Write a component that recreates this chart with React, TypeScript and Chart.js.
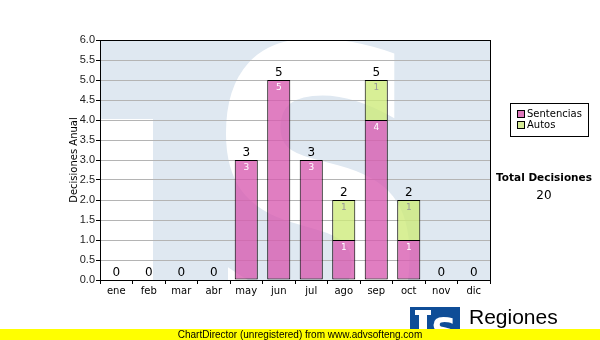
import React, { useEffect, useRef } from "react";
import { Chart, registerables } from "chart.js";

Chart.register(...registerables);

const months = ["ene", "feb", "mar", "abr", "may", "jun", "jul", "ago", "sep", "oct", "nov", "dic"];
const sentencias = [0, 0, 0, 0, 3, 5, 3, 1, 4, 1, 0, 0];
const autos = [0, 0, 0, 0, 0, 0, 0, 1, 1, 1, 0, 0];
const yTicks = [0, 0.5, 1, 1.5, 2, 2.5, 3, 3.5, 4, 4.5, 5, 5.5, 6];
const totalLabel = "Total Decisiones";
const yTitle = "Decisiones Anual";

const FONT = "'DejaVu Sans', Verdana, sans-serif";

export default function App() {
  const ref = useRef<HTMLCanvasElement>(null);
  useEffect(() => {
    if (!ref.current) return;
    const totals = sentencias.map((v, i) => v + autos[i]);
    const grand = totals.reduce((a, b) => a + b, 0);

    const bgPlugin = {
      id: "bg",
      beforeDraw(chart: any) {
        const { ctx, chartArea: a } = chart;
        ctx.save();
        ctx.fillStyle = "#ffffff";
        ctx.fillRect(0, 0, chart.width, chart.height);
        ctx.beginPath();
        ctx.rect(a.left, a.top, a.right - a.left, a.bottom - a.top);
        ctx.clip();
        ctx.fillStyle = "#dfe8f1";
        ctx.fillRect(a.left, a.top, a.right - a.left, a.bottom - a.top);
        ctx.fillStyle = "#ffffff";
        ctx.fillRect(a.left, a.top + 79, 53, a.bottom - a.top);
        ctx.translate(a.left + 218, a.top + 310);
        ctx.scale(0.76, 1);
        ctx.font = "bold 420px 'DejaVu Sans', sans-serif";
        ctx.textAlign = "center";
        ctx.textBaseline = "alphabetic";
        ctx.fillText("S", 0, 0);
        ctx.restore();
        ctx.save();
        ctx.translate(74, (a.top + a.bottom) / 2);
        ctx.rotate(-Math.PI / 2);
        ctx.font = "10px " + FONT;
        ctx.fillStyle = "#000";
        ctx.textAlign = "center";
        ctx.textBaseline = "middle";
        ctx.fillText(yTitle, 0, 0);
        ctx.restore();
      },
    };

    const labelPlugin = {
      id: "labels",
      afterDatasetsDraw(chart: any) {
        const { ctx, chartArea: a } = chart;
        const ys = chart.scales.y;
        ctx.save();
        ctx.textAlign = "center";
        chart.data.datasets.forEach((ds: any, di: number) => {
          const meta = chart.getDatasetMeta(di);
          meta.data.forEach((el: any, i: number) => {
            const v = ds.data[i];
            if (!v) return;
            ctx.font = "9px " + FONT;
            ctx.fillStyle = di === 0 ? "#ffffff" : "#999999";
            ctx.textBaseline = "top";
            ctx.fillText(String(v), el.x, el.y + 3);
          });
        });
        const meta0 = chart.getDatasetMeta(0);
        totals.forEach((t, i) => {
          const x = meta0.data[i].x;
          const y = ys.getPixelForValue(t);
          ctx.font = "12px " + FONT;
          ctx.fillStyle = "#000000";
          ctx.textBaseline = "bottom";
          ctx.fillText(String(t), x, y - 1);
        });
        ctx.strokeStyle = "#000";
        ctx.lineWidth = 1;
        ctx.strokeRect(Math.round(a.left) + 0.5, Math.round(a.top) + 0.5, Math.round(a.right - a.left), Math.round(a.bottom - a.top));
        ctx.restore();
      },
      afterDraw(chart: any) {
        const { ctx } = chart;
        ctx.save();
        ctx.strokeStyle = "#000";
        ctx.lineWidth = 1;
        ctx.strokeRect(510.5, 103.5, 78, 33);
        const items = [
          { label: "Sentencias", color: "#dd77bb" },
          { label: "Autos", color: "#d6ec96" },
        ];
        ctx.font = "10px " + FONT;
        ctx.textBaseline = "middle";
        ctx.textAlign = "left";
        items.forEach((it, k) => {
          const y = 110 + k * 11;
          ctx.fillStyle = it.color;
          ctx.fillRect(517.5, y + 0.5, 7, 7);
          ctx.strokeRect(517.5, y + 0.5, 7, 7);
          ctx.fillStyle = "#000";
          ctx.fillText(it.label, 527, y + 4.5);
        });
        ctx.textAlign = "center";
        ctx.font = "bold 10.5px " + FONT;
        ctx.fillText(totalLabel, 544, 178);
        ctx.font = "12px " + FONT;
        ctx.fillText(String(grand), 544, 196);
        ctx.fillStyle = "#0e4d97";
        ctx.fillRect(410, 307, 50, 33);
        ctx.fillStyle = "#ffffff";
        ctx.fillRect(415, 310, 16, 5);
        ctx.fillRect(419, 310, 8, 30);
        ctx.font = "bold 36px 'DejaVu Sans', sans-serif";
        ctx.textBaseline = "alphabetic";
        ctx.fillText("S", 444, 343);
        ctx.fillStyle = "#000";
        ctx.textAlign = "left";
        ctx.font = "21px 'Liberation Sans', Arial, sans-serif";
        ctx.fillText("Regiones", 469, 324);
        ctx.font = "8px 'Liberation Sans', Arial, sans-serif";
        ctx.fillText("Tribunal Supremo de Justicia", 466, 336);
        ctx.fillStyle = "#ffff00";
        ctx.fillRect(0, 329, 600, 11);
        ctx.fillStyle = "#000";
        ctx.textAlign = "center";
        ctx.textBaseline = "middle";
        ctx.font = "10px 'Liberation Sans', Arial, sans-serif";
        ctx.fillText("ChartDirector (unregistered) from www.advsofteng.com", 300, 335);
        ctx.restore();
      },
    };

    const chart = new Chart(ref.current, {
      type: "bar",
      data: {
        labels: months,
        datasets: [
          {
            label: "Sentencias",
            data: sentencias,
            backgroundColor: "rgba(215, 90, 175, 0.78)",
            borderColor: "#000",
            borderWidth: (c: any) => (c.raw ? 1 : 0),
            borderSkipped: false,
            barPercentage: 0.71,
            categoryPercentage: 1,
          },
          {
            label: "Autos",
            data: autos,
            backgroundColor: "rgba(205, 235, 120, 0.78)",
            borderColor: "#000",
            borderWidth: (c: any) => (c.raw ? 1 : 0),
            borderSkipped: "bottom",
            barPercentage: 0.71,
            categoryPercentage: 1,
          },
        ],
      },
      options: {
        animation: false,
        responsive: false,
        maintainAspectRatio: false,
        layout: { padding: { top: 40, right: 110, left: 0, bottom: 0 } },
        plugins: { legend: { display: false }, tooltip: { enabled: false } },
        scales: {
          x: {
            stacked: true,
            offset: true,
            afterFit: (s: any) => {
              s.height = 60;
            },
            grid: { drawOnChartArea: false, tickLength: 4, tickColor: "#000", color: "#000" },
            border: { display: true, color: "#000" },
            ticks: { font: { family: FONT, size: 10 }, color: "#000", padding: 1 },
          },
          y: {
            stacked: true,
            min: 0,
            max: 6,
            afterFit: (s: any) => {
              s.width = 100;
            },
            afterBuildTicks: (s: any) => {
              s.ticks = yTicks.map((v) => ({ value: v }));
            },
            grid: { color: "#b4b4b4", tickColor: "#000", tickLength: 4 },
            border: { display: true, color: "#000" },
            ticks: {
              font: { family: "'Liberation Sans', Arial, sans-serif", size: 11 },
              color: "#222",
              padding: 1,
              callback: (v: any) => Number(v).toFixed(1),
            },
          },
        },
      },
      plugins: [bgPlugin, labelPlugin],
    });
    return () => chart.destroy();
  }, []);
  return (
    <div style={{ position: "fixed", left: 0, top: 0, width: 600, height: 340 }}>
      <canvas ref={ref} width={600} height={340} style={{ width: 600, height: 340, display: "block" }} />
    </div>
  );
}
